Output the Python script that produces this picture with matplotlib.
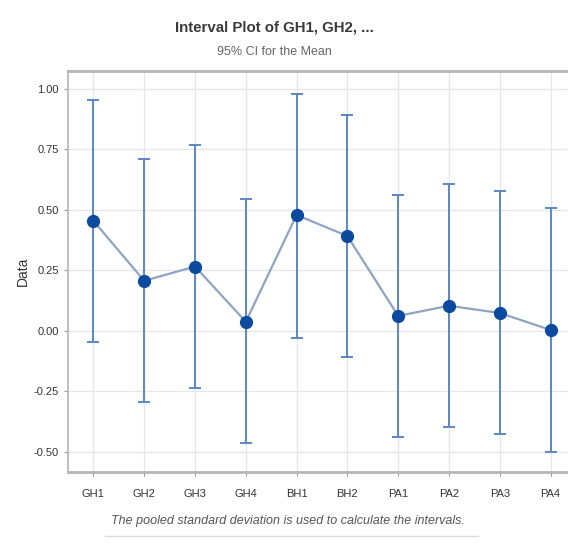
import matplotlib
matplotlib.use("Agg")
import matplotlib.pyplot as plt
from matplotlib.lines import Line2D

categories = ["GH1", "GH2", "GH3", "GH4", "BH1", "BH2", "PA1", "PA2", "PA3", "PA4"]
means = [0.455, 0.207, 0.266, 0.038, 0.479, 0.392, 0.062, 0.104, 0.074, 0.004]
lower = [-0.044, -0.293, -0.236, -0.464, -0.028, -0.109, -0.440, -0.398, -0.428, -0.502]
upper = [0.955, 0.710, 0.768, 0.544, 0.979, 0.893, 0.560, 0.607, 0.578, 0.508]
yticks = [-0.50, -0.25, 0.00, 0.25, 0.50, 0.75, 1.00]
ytick_labels = ["-0.50", "-0.25", "0.00", "0.25", "0.50", "0.75", "1.00"]

plt.rcParams["font.family"] = ["Liberation Sans", "DejaVu Sans"]

W, H = 568, 544
fig = plt.figure(figsize=(W / 100, H / 100), dpi=100)
fig.patch.set_facecolor("white")
ax = fig.add_axes([68 / W, (H - 472) / H, (576 - 68) / W, (472 - 71) / H])

x = list(range(1, len(categories) + 1))
yerr = [[m - l for m, l in zip(means, lower)], [u - m for m, u in zip(means, upper)]]

ax.plot(x, means, color="#8fa3c2", lw=1.6, zorder=3)
ax.errorbar(x, means, yerr=yerr, fmt="none", ecolor="#5b87c2", elinewidth=1.4,
            capsize=4, capthick=1.4, zorder=2)
ax.plot(x, means, ls="none", marker="o", ms=8.5, color="#0b4a9e", zorder=4)

ax.set_xlim(0.5, 10.5)
ax.set_ylim(-0.583, 1.074)
ax.set_xticks(x)
ax.set_xticklabels(categories, fontsize=8, color="#333333")
ax.set_yticks(yticks)
ax.set_yticklabels(ytick_labels, fontsize=8, color="#333333")
ax.tick_params(axis="both", length=3, color="#999999", width=0.8)
ax.tick_params(axis="x", pad=9)
ax.grid(True, color="#e6e6e6", lw=0.9)
ax.set_axisbelow(True)
for side in ["top", "bottom"]:
    ax.spines[side].set_color("#b5b5b5")
    ax.spines[side].set_linewidth(2.0)
ax.spines["left"].set_color("#b5b5b5")
ax.spines["left"].set_linewidth(1.2)
ax.spines["right"].set_visible(False)

ax.set_ylabel("Data", fontsize=10, color="#333333", labelpad=3)

fig.text(274 / W, 1 - 27 / H, "Interval Plot of GH1, GH2, ...", ha="center", va="center",
         fontsize=10.8, fontweight="bold", color="#3a3a3a")
fig.text(274 / W, 1 - 52 / H, "95% CI for the Mean", ha="center", va="center",
         fontsize=9, color="#666666")
fig.text(288 / W, 1 - 521 / H, "The pooled standard deviation is used to calculate the intervals.",
         ha="center", va="center", fontsize=9, style="italic", color="#555555")
fig.add_artist(Line2D([105 / W, 478 / W], [1 - 536 / H, 1 - 536 / H],
                      color="#dddddd", lw=1.0, transform=fig.transFigure))

fig.savefig("out.png", dpi=100, facecolor="white")
